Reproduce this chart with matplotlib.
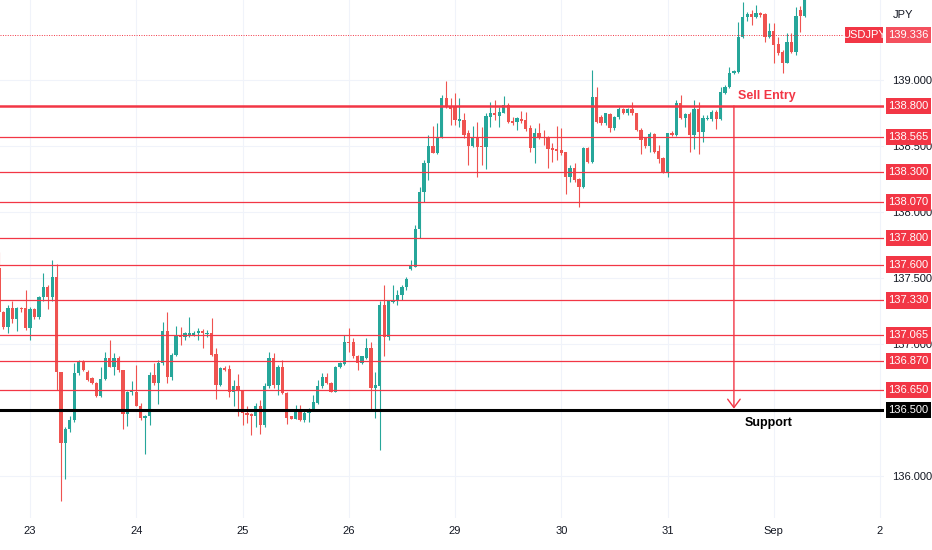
import numpy as np
import matplotlib
matplotlib.use("Agg")
import matplotlib.pyplot as plt
from matplotlib.patches import Rectangle
from matplotlib.transforms import blended_transform_factory

plt.rcParams['font.family'] = ['Liberation Sans', 'DejaVu Sans']

# USDJPY 1h Kerzen, Index 0 = 23. Aug 00:00
first_idx = -7
opens = [
    137.573, 137.245, 137.127, 137.27, 137.187, 137.27, 137.27, 137.124, 137.263, 137.2,
    137.353, 137.434, 137.358, 137.505, 136.784, 136.249, 136.355, 136.426, 136.779, 136.867,
    136.791, 136.741, 136.708, 136.607, 136.733, 136.892, 136.829, 136.89, 136.799, 136.471,
    136.633, 136.64, 136.534, 136.443, 136.451, 136.766, 136.703, 136.854, 137.094, 136.753,
    136.917, 137.068, 137.051, 137.068, 137.071, 137.081, 137.101, 137.076, 137.086, 136.925,
    136.69, 136.816, 136.809, 136.64, 136.683, 136.653, 136.476, 136.471, 136.451, 136.527,
    136.388, 136.678, 136.892, 136.69, 136.829, 136.632, 136.451, 136.433, 136.506, 136.426,
    136.476, 136.496, 136.552, 136.678, 136.748, 136.708, 136.64, 136.824, 136.849, 137.018,
    137.018, 136.91, 136.859, 136.892, 136.968, 136.665, 136.678, 137.295, 137.056, 137.316,
    137.321, 137.37, 137.428, 137.564, 137.585, 137.867, 138.152, 138.366, 138.497, 138.447,
    138.555, 138.858, 138.80, 138.795, 138.689, 138.694, 138.593, 138.497, 138.568, 138.497,
    138.487, 138.719, 138.744, 138.724, 138.749, 138.807, 138.686, 138.681, 138.699, 138.694,
    138.631, 138.48, 138.598, 138.568, 138.563, 138.48, 138.472, 138.467, 138.452, 138.265,
    138.333, 138.245, 138.185, 138.48, 138.374, 138.871, 138.72, 138.67, 138.74, 138.631,
    138.715, 138.775, 138.745, 138.775, 138.745, 138.619, 138.563, 138.498, 138.589, 138.46,
    138.404, 138.304, 138.599, 138.58, 138.82, 138.707, 138.74, 138.581, 138.775, 138.606,
    138.70, 138.70, 138.757, 138.70, 138.90, 138.942, 139.052, 139.06, 139.32, 139.47,
    139.496, 139.476, 139.506, 139.496, 139.32, 139.37, 139.27, 139.21, 139.128, 139.287,
    139.211, 139.53, 139.481,
]
highs = [
    137.699, 137.25, 137.295, 137.321, 137.283, 137.28, 137.409, 137.283, 137.27, 137.36,
    137.535, 137.447, 137.636, 137.606, 136.79, 136.375, 136.451, 136.854, 136.879, 136.875,
    136.80, 136.75, 136.715, 136.829, 136.942, 137.031, 136.93, 136.905, 136.804, 136.645,
    136.716, 136.842, 136.552, 136.463, 136.791, 136.854, 136.879, 137.169, 137.245, 136.93,
    137.132, 137.127, 137.088, 137.202, 137.095, 137.119, 137.111, 137.106, 137.195, 136.968,
    136.829, 136.83, 136.842, 136.728, 136.774, 136.653, 136.534, 136.476, 136.552, 136.577,
    136.703, 136.942, 136.93, 136.842, 136.879, 136.64, 136.455, 136.539, 136.539, 136.489,
    136.514, 136.615, 136.728, 136.779, 136.779, 136.71, 136.834, 136.867, 137.068, 137.119,
    137.043, 136.917, 136.91, 137.043, 137.018, 136.791, 137.321, 137.447, 137.333, 137.447,
    137.409, 137.446, 137.509, 137.635, 137.90, 138.19, 138.391, 138.58, 138.648, 138.669,
    138.883, 138.991, 138.858, 138.901, 138.858, 138.744, 138.618, 138.648, 138.681, 138.643,
    138.749, 138.833, 138.845, 138.795, 138.875, 138.82, 138.719, 138.719, 138.764, 138.757,
    138.656, 138.631, 138.669, 138.618, 138.573, 138.522, 138.648, 138.636, 138.454, 138.353,
    138.366, 138.252, 138.487, 138.492, 139.072, 138.947, 138.73, 138.75, 138.745, 138.725,
    138.79, 138.783, 138.783, 138.833, 138.75, 138.631, 138.568, 138.606, 138.594, 138.505,
    138.417, 138.599, 138.61, 138.846, 138.883, 138.75, 138.757, 138.846, 138.833, 138.732,
    138.732, 138.77, 138.77, 138.947, 138.96, 139.098, 139.07, 139.438, 139.59, 139.514,
    139.526, 139.564, 139.514, 139.50, 139.426, 139.426, 139.325, 139.224, 139.35, 139.35,
    139.552, 139.56, 139.65,
]
lows = [
    137.245, 137.11, 137.081, 137.157, 137.101, 137.24, 137.106, 137.031, 137.19, 137.19,
    137.321, 137.263, 137.321, 136.653, 135.808, 135.977, 136.337, 136.413, 136.766, 136.795,
    136.72, 136.695, 136.60, 136.602, 136.728, 136.824, 136.766, 136.791, 136.355, 136.38,
    136.615, 136.527, 136.426, 136.169, 136.388, 136.69, 136.544, 136.842, 136.703, 136.728,
    136.905, 136.993, 137.03, 137.056, 137.06, 137.031, 136.968, 137.056, 136.91, 136.582,
    136.678, 136.795, 136.602, 136.527, 136.456, 136.388, 136.40, 136.312, 136.375, 136.32,
    136.375, 136.665, 136.665, 136.615, 136.622, 136.395, 136.43, 136.43, 136.42, 136.413,
    136.413, 136.489, 136.544, 136.665, 136.698, 136.64, 136.637, 136.816, 136.842, 136.942,
    136.892, 136.804, 136.85, 136.884, 136.489, 136.438, 136.194, 136.905, 137.031, 137.308,
    137.295, 137.333, 137.408, 137.559, 137.585, 137.799, 138.076, 138.24, 138.442, 138.437,
    138.555, 138.782, 138.656, 138.656, 138.643, 138.555, 138.353, 138.487, 138.26, 138.353,
    138.321, 138.643, 138.694, 138.643, 138.744, 138.674, 138.656, 138.618, 138.674, 138.613,
    138.454, 138.371, 138.548, 138.505, 138.328, 138.379, 138.391, 138.429, 138.134, 138.227,
    138.227, 138.038, 138.177, 138.366, 138.366, 138.669, 138.66, 138.66, 138.60, 138.62,
    138.70, 138.74, 138.732, 138.732, 138.614, 138.437, 138.48, 138.455, 138.447, 138.367,
    138.291, 138.266, 138.575, 138.57, 138.70, 138.64, 138.455, 138.472, 138.437, 138.53,
    138.695, 138.69, 138.624, 138.695, 138.89, 138.934, 139.04, 139.052, 139.312, 139.446,
    139.413, 139.463, 139.476, 139.287, 139.312, 139.128, 139.186, 139.052, 139.123, 139.199,
    139.186, 139.36, 139.47,
]
closes = [
    137.245, 137.127, 137.27, 137.187, 137.27, 137.263, 137.124, 137.263, 137.2, 137.353,
    137.434, 137.358, 137.505, 136.784, 136.249, 136.355, 136.426, 136.779, 136.867, 136.804,
    136.728, 136.703, 136.607, 136.733, 136.892, 136.829, 136.89, 136.799, 136.471, 136.64,
    136.64, 136.534, 136.443, 136.456, 136.766, 136.703, 136.854, 137.094, 136.753, 136.917,
    137.068, 137.051, 137.081, 137.086, 137.086, 137.101, 137.081, 137.086, 136.917, 136.69,
    136.816, 136.804, 136.64, 136.683, 136.648, 136.476, 136.464, 136.451, 136.527, 136.388,
    136.678, 136.892, 136.69, 136.829, 136.632, 136.438, 136.433, 136.506, 136.426, 136.481,
    136.501, 136.557, 136.683, 136.748, 136.703, 136.64, 136.829, 136.854, 137.013, 137.005,
    136.905, 136.859, 136.905, 136.968, 136.665, 136.69, 137.295, 137.056, 137.321, 137.33,
    137.371, 137.433, 137.489, 137.597, 137.867, 138.152, 138.371, 138.497, 138.447, 138.568,
    138.858, 138.795, 138.775, 138.694, 138.699, 138.58, 138.497, 138.568, 138.492, 138.487,
    138.724, 138.744, 138.732, 138.757, 138.807, 138.681, 138.674, 138.706, 138.689, 138.623,
    138.48, 138.598, 138.555, 138.555, 138.472, 138.467, 138.462, 138.447, 138.265, 138.333,
    138.24, 138.185, 138.48, 138.374, 138.871, 138.682, 138.67, 138.745, 138.631, 138.715,
    138.775, 138.745, 138.775, 138.745, 138.619, 138.543, 138.498, 138.589, 138.455, 138.397,
    138.304, 138.594, 138.58, 138.82, 138.707, 138.74, 138.581, 138.775, 138.606, 138.707,
    138.707, 138.757, 138.70, 138.909, 138.947, 139.052, 139.067, 139.325, 139.471, 139.496,
    139.471, 139.506, 139.49, 139.32, 139.37, 139.262, 139.204, 139.128, 139.287, 139.211,
    139.481, 139.48, 139.62,
]

day_labels = ["23", "24", "25", "26", "29", "30", "31", "Sep", "2"]
day_idx = [0, 24, 48, 72, 96, 120, 144, 168, 192]

levels = [138.800, 138.565, 138.300, 138.070, 137.800, 137.600,
          137.330, 137.065, 136.870, 136.650]
support = 136.500
last_price = 139.336
entry_idx = 159
price_ticks = [136.0, 137.0, 137.5, 138.0, 138.5, 139.0]

RED = '#f23645'
UP = '#26a69a'
DOWN = '#ef5350'
TXT = '#131722'

o = np.array(opens); h = np.array(highs); l = np.array(lows); c = np.array(closes)
x = np.arange(first_idx, first_idx + len(o))
col = np.where(c >= o, UP, DOWN)

fig = plt.figure(figsize=(9.32, 5.5), dpi=100)
ax = fig.add_axes([0, 32 / 550, 884 / 932, 518 / 550])
ax.set_xlim(-6.78, 192.9)
ax.set_ylim(135.683, 139.602)
px = 518 / (139.602 - 135.683)   # Pixel je Yen

# Gitter
for v in np.arange(136.0, 139.01, 0.5):
    ax.axhline(v, color='#f0f3fa', lw=0.8, zorder=0)
for d in day_idx:
    ax.axvline(d, color='#f0f3fa', lw=0.8, zorder=0)

# Kerzen
ax.vlines(x, l, h, colors=col, lw=0.8, zorder=2)
body = np.maximum(np.abs(c - o), 0.008)
ax.bar(x, body, bottom=np.minimum(o, c), width=0.74, color=col, zorder=3)

# Linien
for lv in levels:
    ax.axhline(lv, color=RED, lw=1.8 if lv == 138.8 else 0.9, zorder=4)
ax.axhline(support, color='black', lw=2.2, zorder=4)
ax.plot([-6.78, 184.0], [last_price, last_price], color=RED, lw=0.7,
        ls=(0, (1, 1.5)), zorder=4)

ax.annotate('', xy=(entry_idx, support + 0.01), xytext=(entry_idx, 138.8),
            arrowprops=dict(arrowstyle='->,head_length=0.6,head_width=0.45',
                            color=RED, lw=1, shrinkA=0, shrinkB=0), zorder=5)
ax.text(entry_idx + 1, 138.876, 'Sell Entry', color=RED, fontsize=9,
        fontweight='bold', va='center', ha='left', zorder=6)
ax.text(entry_idx + 2.5, 136.40, 'Support', color='black', fontsize=9,
        fontweight='bold', va='center', ha='left', zorder=6)

# Achsen
for s in ax.spines.values():
    s.set_visible(False)
ax.set_xticks(day_idx)
ax.set_xticklabels(day_labels)
ax.tick_params(axis='x', length=0, pad=6, labelsize=8, labelcolor=TXT)
ax.yaxis.tick_right()
ax.set_yticks(price_ticks)
ax.set_yticklabels([f'{v:.3f}' for v in price_ticks])
ax.tick_params(axis='y', length=0, pad=6, labelsize=8, labelcolor=TXT)

tr = blended_transform_factory(ax.transAxes, ax.transData)
bw = 45 / 884
bh = 16.5 / px


def price_box(val, text, fc, x0=1.002, w=bw):
    ax.add_patch(Rectangle((x0, val - bh / 2), w, bh, transform=tr,
                           facecolor=fc, edgecolor='none', clip_on=False, zorder=7))
    ax.text(x0 + w / 2, val, text, transform=tr, color='white', fontsize=8,
            ha='center', va='center', clip_on=False, zorder=8)


for lv in levels:
    price_box(lv, f'{lv:.3f}', RED)
price_box(support, f'{support:.3f}', 'black')
price_box(last_price, f'{last_price:.3f}', '#f4505e')
price_box(last_price, 'USDJPY', RED, x0=845 / 884, w=38 / 884)
ax.text(1 + 9 / 884, 139.489, 'JPY', transform=tr, color=TXT, fontsize=8,
        ha='left', va='center', clip_on=False)

fig.savefig('out.png', dpi=100)
